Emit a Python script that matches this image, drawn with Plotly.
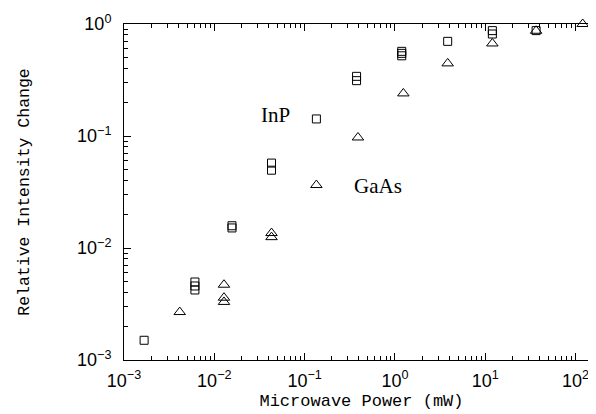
import plotly.graph_objects as go

# InP (squares)
inp_x = [0.00167, 0.0061, 0.0061, 0.0061, 0.0157, 0.0157, 0.043, 0.043,
         0.135, 0.376, 0.376, 1.19, 1.19, 1.19, 3.84, 12.0, 12.0, 36.6]
inp_y = [0.0015, 0.00497, 0.00458, 0.00422, 0.0158, 0.0151, 0.0573, 0.0495,
         0.142, 0.341, 0.312, 0.57, 0.547, 0.52, 0.70, 0.873, 0.814, 0.873]

# GaAs (triangles)
gaas_x = [0.00414, 0.0128, 0.0128, 0.0128, 0.043, 0.043, 0.135, 0.39,
          1.24, 3.84, 12.0, 36.6, 120.0]
gaas_y = [0.00268, 0.0047, 0.0036, 0.0033, 0.0136, 0.0125, 0.0365, 0.097,
          0.24, 0.445, 0.67, 0.87, 1.0]

x_ticks = [1e-3, 1e-2, 1e-1, 1e0, 1e1, 1e2]
x_ticktext = ["10<sup>−3</sup>", "10<sup>−2</sup>", "10<sup>−1</sup>",
              "10<sup>0</sup>", "10<sup>1</sup>", "10<sup>2</sup>"]
y_ticks = [1e-3, 1e-2, 1e-1, 1e0]
y_ticktext = ["10<sup>−3</sup>", "10<sup>−2</sup>", "10<sup>−1</sup>", "10<sup>0</sup>"]

x_minor = [k * 10.0 ** e for e in range(-3, 3) for k in range(2, 10)]
y_minor = [k * 10.0 ** e for e in range(-3, 0) for k in range(2, 10)]

fig = go.Figure()
fig.add_trace(go.Scatter(
    x=inp_x, y=inp_y, mode="markers", name="InP", cliponaxis=False,
    marker=dict(symbol="square-open", size=8, color="black", line=dict(width=1, color="black")),
))
fig.add_trace(go.Scatter(
    x=gaas_x, y=gaas_y, mode="markers", name="GaAs", cliponaxis=False,
    marker=dict(symbol="triangle-up-open", size=10, color="black", line=dict(width=1, color="black")),
))

tickfont = dict(family="Liberation Sans, Arial, sans-serif", size=18, color="black")
xtitlefont = dict(family="Liberation Mono, Courier New, monospace", size=17, color="black")
ytitlefont = dict(family="Liberation Mono, Courier New, monospace", size=16.5, color="black")

fig.update_xaxes(
    type="log", range=[-3, 2.26], automargin=False,
    tickmode="array", tickvals=x_ticks, ticktext=x_ticktext,
    ticks="inside", ticklen=7, tickwidth=1, tickcolor="black",
    minor=dict(tickvals=x_minor, ticks="inside", ticklen=4, tickwidth=1, tickcolor="black", showgrid=False),
    showline=True, linecolor="black", linewidth=1, mirror="allticks",
    showgrid=False, zeroline=False, tickfont=tickfont, ticklabelstandoff=4,
    title=dict(text="Microwave Power (mW)", font=xtitlefont, standoff=4),
)
fig.update_yaxes(
    type="log", range=[-3, 0], automargin=False,
    tickmode="array", tickvals=y_ticks, ticktext=y_ticktext,
    ticks="inside", ticklen=7, tickwidth=1, tickcolor="black",
    minor=dict(tickvals=y_minor, ticks="inside", ticklen=4, tickwidth=1, tickcolor="black", showgrid=False),
    showline=True, linecolor="black", linewidth=1, mirror="allticks",
    showgrid=False, zeroline=False, tickfont=tickfont, ticklabelstandoff=8,
    title=dict(text="Relative Intensity Change", font=ytitlefont, standoff=43),
)

annfont = dict(family="Liberation Serif, Times New Roman, serif", size=21, color="black")
fig.add_annotation(x=-1.32, y=-0.815, xref="x", yref="y", text="InP", showarrow=False, font=annfont)
fig.add_annotation(x=-0.19, y=-1.445, xref="x", yref="y", text="GaAs", showarrow=False, font=annfont)

fig.update_layout(
    width=596, height=414,
    margin=dict(l=116, r=5, t=16, b=62),
    paper_bgcolor="white", plot_bgcolor="white",
    showlegend=False,
)

fig.write_html("out.html")
